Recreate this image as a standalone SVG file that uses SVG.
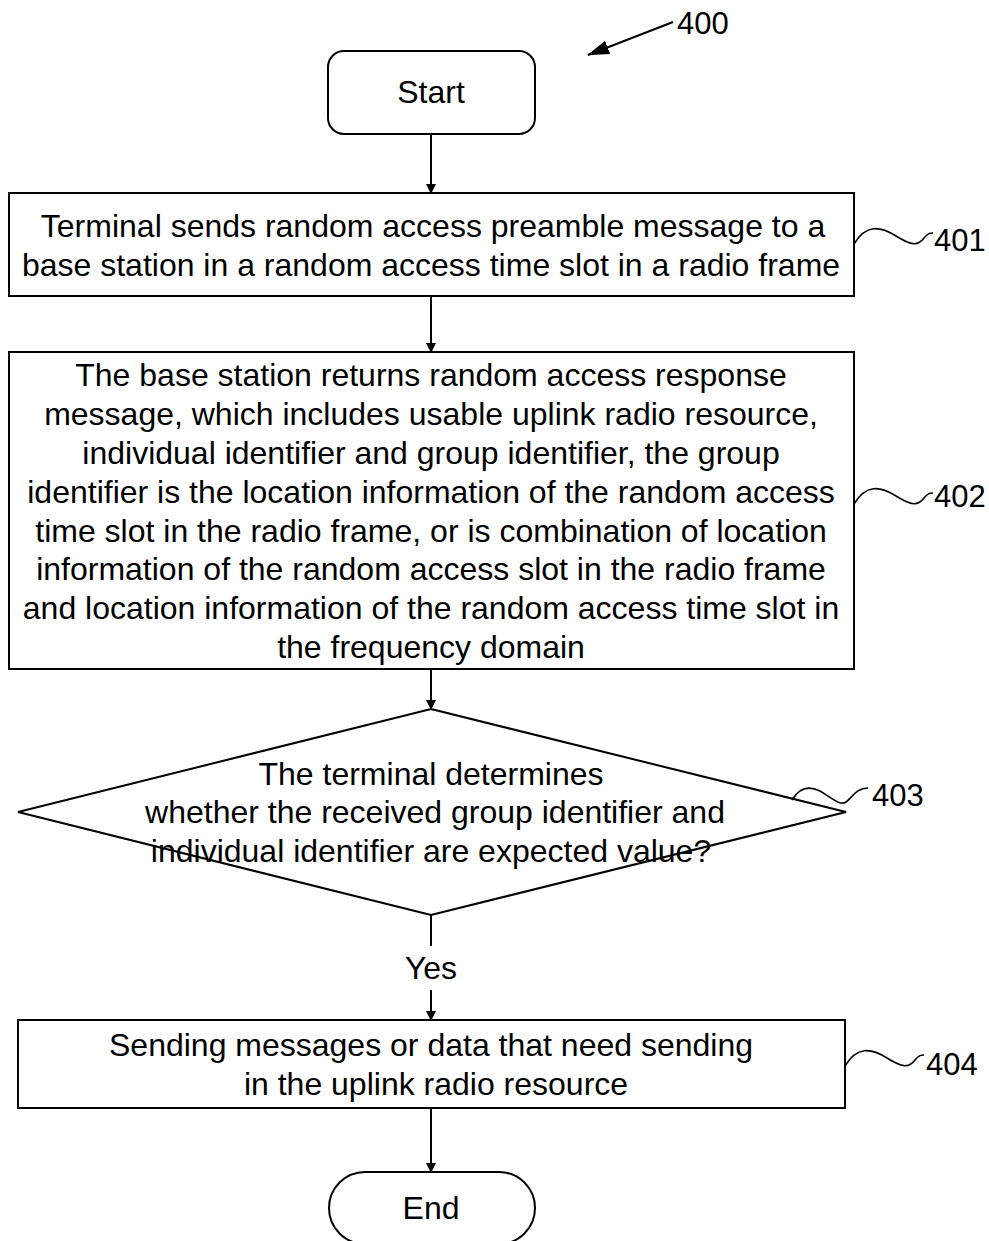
<svg xmlns="http://www.w3.org/2000/svg" width="989" height="1241" viewBox="0 0 989 1241">
<style>
.n{fill:#fff;stroke:#000;stroke-width:2}
.t{font-family:"Liberation Sans",Arial,sans-serif;font-size:32px;fill:#000;text-anchor:middle}
.l{font-family:"Liberation Sans",Arial,sans-serif;font-size:31px;fill:#000}
.c{stroke:#000;stroke-width:2;fill:none}
.s{stroke:#000;stroke-width:1.6;fill:none}
</style>
<defs>
<marker id="a" markerWidth="10" markerHeight="10" refX="9" refY="5" orient="auto" markerUnits="userSpaceOnUse" viewBox="0 0 10 10">
<path d="M0,0 L10,5 L0,10 z" fill="#000"/>
</marker>
<marker id="b" markerWidth="22" markerHeight="14" refX="21" refY="7" orient="auto" markerUnits="userSpaceOnUse" viewBox="0 0 22 14">
<path d="M0,0 L22,7 L0,14 z" fill="#000"/>
</marker>
</defs>
<g id="ref400">
<line class="c" x1="673" y1="22" x2="588" y2="55" marker-end="url(#b)"/>
<text class="l" x="677" y="34">400</text>
</g>
<g id="start">
<rect class="n" x="328" y="51" width="207" height="83" rx="16"/>
<text class="t" x="431" y="103">Start</text>
</g>
<g id="n401">
<rect class="n" x="9" y="193" width="845" height="103"/>
<text class="t" x="433" y="237">Terminal sends random access preamble message to a</text>
<text class="t" x="431" y="276">base station in a random access time slot in a radio frame</text>
<path class="s" d="M854,244 C866,224 880,226 896,236 C912,246 918,246 924,238 C928,233 930,233 933,233"/>
<text class="l" x="934" y="251">401</text>
</g>
<g id="n402">
<rect class="n" x="9" y="352" width="845" height="317"/>
<text class="t" x="431" y="386">The base station returns random access response</text>
<text class="t" x="431" y="425">message, which includes usable uplink radio resource,</text>
<text class="t" x="431" y="464">individual identifier and group identifier, the group</text>
<text class="t" x="431" y="503">identifier is the location information of the random access</text>
<text class="t" x="431" y="542">time slot in the radio frame, or is combination of location</text>
<text class="t" x="431" y="580">information of the random access slot in the radio frame</text>
<text class="t" x="431" y="619">and location information of the random access time slot in</text>
<text class="t" x="431" y="658">the frequency domain</text>
<path class="s" d="M854,504 C866,484 880,486 896,496 C912,506 918,506 924,498 C928,493 930,493 933,493"/>
<text class="l" x="934" y="507">402</text>
</g>
<g id="n403">
<polygon class="n" points="431,709 846,812 431,915 18,812"/>
<text class="t" x="431" y="785">The terminal determines</text>
<text class="t" x="435" y="823">whether the received group identifier and</text>
<text class="t" x="431" y="862">individual identifier are expected value?</text>
<path class="s" d="M792,800 C800,786 810,786 820,791 C832,798 840,806 846,802 C852,798 856,788 868,788"/>
<text class="l" x="872" y="806">403</text>
</g>
<g id="n404">
<rect class="n" x="18" y="1020" width="827" height="88"/>
<text class="t" x="431" y="1056">Sending messages or data that need sending</text>
<text class="t" x="436" y="1095">in the uplink radio resource</text>
<path class="s" d="M845,1066 C857,1046 871,1048 887,1058 C903,1068 909,1068 915,1060 C919,1055 921,1055 924,1055"/>
<text class="l" x="926" y="1075">404</text>
</g>
<g id="end">
<rect class="n" x="329" y="1172" width="206" height="72" rx="36"/>
<text class="t" x="431" y="1219">End</text>
</g>
<g id="connectors">
<line class="c" x1="431" y1="134" x2="431" y2="193" marker-end="url(#a)"/>
<line class="c" x1="431" y1="296" x2="431" y2="352" marker-end="url(#a)"/>
<line class="c" x1="431" y1="669" x2="431" y2="709" marker-end="url(#a)"/>
<line class="c" x1="431" y1="915" x2="431" y2="946"/>
<text class="t" x="431" y="979">Yes</text>
<line class="c" x1="431" y1="990" x2="431" y2="1020" marker-end="url(#a)"/>
<line class="c" x1="431" y1="1108" x2="431" y2="1172" marker-end="url(#a)"/>
</g>
</svg>
